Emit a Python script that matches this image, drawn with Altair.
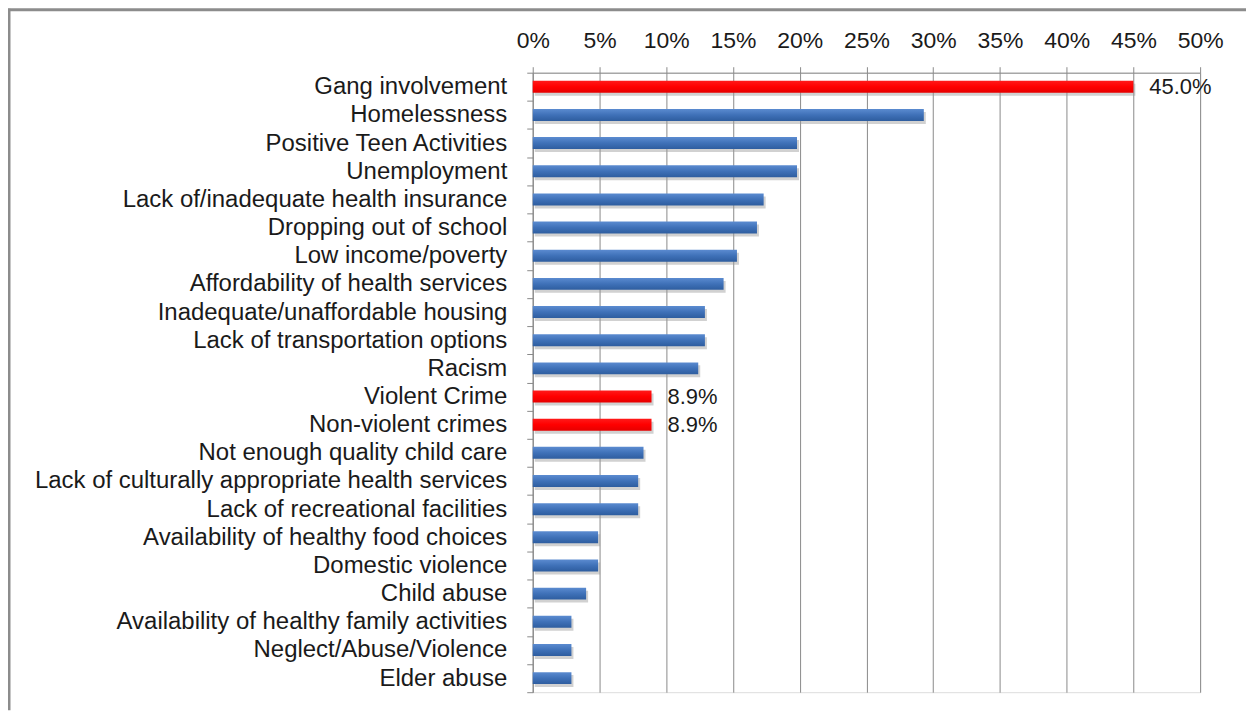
import altair as alt
import pandas as pd

categories = [
    "Gang involvement",
    "Homelessness",
    "Positive Teen Activities",
    "Unemployment",
    "Lack of/inadequate health insurance",
    "Dropping out of school",
    "Low income/poverty",
    "Affordability of health services",
    "Inadequate/unaffordable housing",
    "Lack of transportation options",
    "Racism",
    "Violent Crime",
    "Non-violent crimes",
    "Not enough quality child care",
    "Lack of culturally appropriate health services",
    "Lack of recreational facilities",
    "Availability of healthy food choices",
    "Domestic violence",
    "Child abuse",
    "Availability of healthy family activities",
    "Neglect/Abuse/Violence",
    "Elder abuse",
]
values = [45.0, 29.3, 19.8, 19.8, 17.3, 16.8, 15.3, 14.3, 12.9, 12.9, 12.4,
          8.9, 8.9, 8.3, 7.9, 7.9, 4.9, 4.9, 4.0, 2.9, 2.9, 2.9]
highlighted = ["Gang involvement", "Violent Crime", "Non-violent crimes"]
value_labels = {"Gang involvement": "45.0%", "Violent Crime": "8.9%", "Non-violent crimes": "8.9%"}
x_ticks = [0, 0.05, 0.10, 0.15, 0.20, 0.25, 0.30, 0.35, 0.40, 0.45, 0.50]

df = pd.DataFrame({
    "category": categories,
    "share": [v / 100 for v in values],
})
df["hl"] = df["category"].isin(highlighted)
df["label"] = df["category"].map(value_labels).fillna("")

FONT = "Liberation Sans"
GRID = "#8a8a8a"

y_enc = alt.Y(
    "category:N",
    sort=categories,
    scale=alt.Scale(paddingInner=0, paddingOuter=0),
    axis=alt.Axis(
        title=None, orient="left", tickBand="extent", tickSize=6,
        tickColor=GRID, domainColor=GRID, labelPadding=20,
        labelFont=FONT, labelFontSize=24, labelColor="#1a1a1a",
        labelLimit=600, grid=False,
    ),
)
x_enc = alt.X(
    "share:Q",
    scale=alt.Scale(domain=[0, 0.5], nice=False),
    axis=alt.Axis(
        title=None, orient="top", format=".0%", values=x_ticks,
        tickSize=6, tickColor=GRID, domainColor=GRID, gridColor=GRID,
        gridOpacity=1, labelPadding=14, labelFont=FONT, labelFontSize=23,
        labelColor="#1a1a1a", labelFlush=False,
    ),
)

base = alt.Chart(df)

blue_grad = alt.Gradient(
    gradient="linear", x1=0, x2=0, y1=0, y2=1,
    stops=[alt.GradientStop(offset=0, color="#5b8bd0"),
           alt.GradientStop(offset=0.5, color="#3f71b8"),
           alt.GradientStop(offset=1, color="#2e5d9f")],
)
red_grad = alt.Gradient(
    gradient="linear", x1=0, x2=0, y1=0, y2=1,
    stops=[alt.GradientStop(offset=0, color="#ff1a1a"),
           alt.GradientStop(offset=0.5, color="#ff0000"),
           alt.GradientStop(offset=1, color="#e60000")],
)

shadow = base.mark_bar(size=12, color="#9a9a9a", opacity=0.45, xOffset=2, yOffset=3).encode(
    x=x_enc, y=y_enc
)

blue_bars = base.transform_filter("!datum.hl").mark_bar(size=12, color=blue_grad).encode(
    x=x_enc, y=y_enc
)
red_bars = base.transform_filter("datum.hl").mark_bar(size=12, color=red_grad).encode(
    x=x_enc, y=y_enc
)

labels = base.transform_filter("datum.label != ''").mark_text(
    align="left", baseline="middle", dx=16, font=FONT, fontSize=22, color="#1a1a1a"
).encode(x=x_enc, y=y_enc, text="label:N")

frame_top = alt.Chart(pd.DataFrame({"k": [0]})).mark_rule(
    color="#8c8c8c", strokeWidth=3
).encode(x=alt.value(-526), x2=alt.value(715), y=alt.value(-63))
frame_left = alt.Chart(pd.DataFrame({"k": [0]})).mark_rule(
    color="#8c8c8c", strokeWidth=3
).encode(x=alt.value(-525), y=alt.value(-64), y2=alt.value(639))

chart = alt.layer(frame_top, frame_left, shadow, blue_bars, red_bars, labels).properties(
    width=669,
    height=621,
    autosize=alt.AutoSizeParams(type="none"),
    padding={"left": 526, "top": 64, "right": 46, "bottom": 18},
).configure_view(stroke=None).configure(background="white")

chart.save("out.html", embed_options={"renderer": "svg", "actions": False})
